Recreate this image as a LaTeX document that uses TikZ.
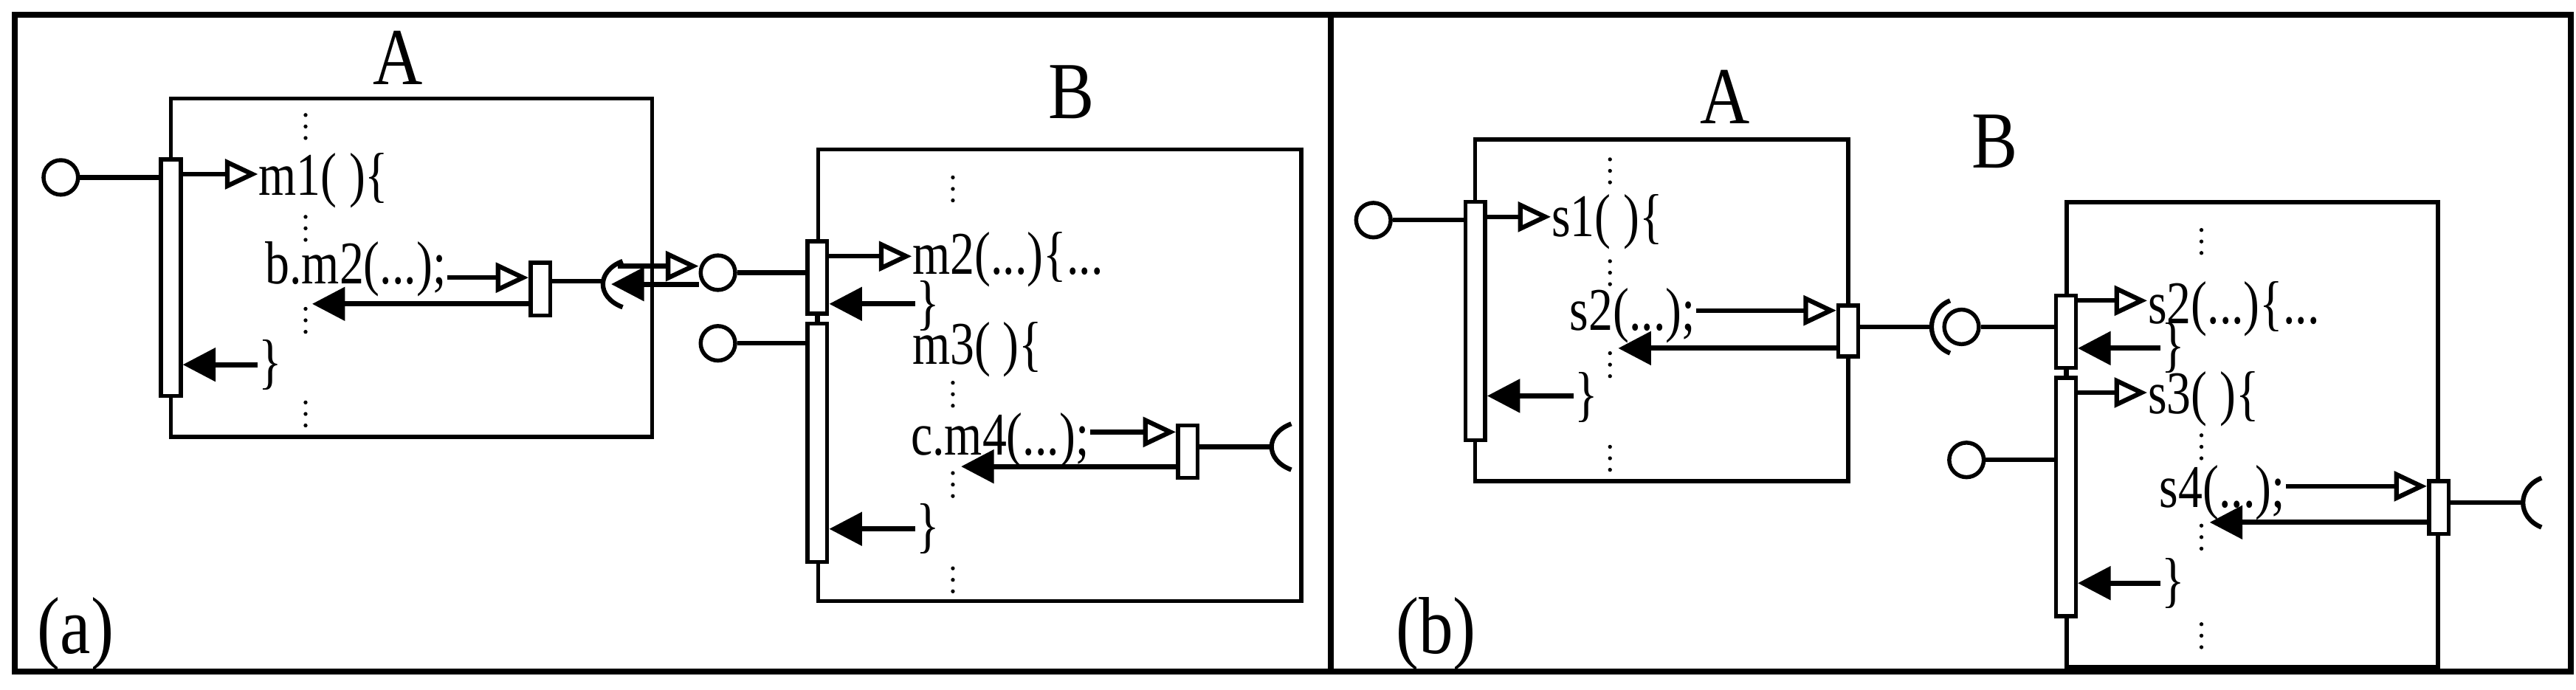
\documentclass[tikz,border=0pt]{standalone}
\usepackage{fontspec}
\setmainfont{Liberation Serif}
\usetikzlibrary{arrows.meta}
\begin{document}
\begin{tikzpicture}[x=0.01cm,y=-0.01cm,
  box/.style={draw,line width=0.7pt},
  bar/.style={draw,fill=white,line width=0.7pt,rectangle,minimum width=1.2mm,inner sep=0},
  port/.style={draw,circle,line width=0.7pt,minimum size=2.1mm,inner sep=0},
  txt/.style={font=\fontsize{10.5}{11}\selectfont,inner sep=0,anchor=west,xscale=0.8},
  big/.style={font=\fontsize{14}{15}\selectfont,inner sep=0,xscale=0.85},
  oa/.style={line width=0.8pt,-{Triangle[open,length=2mm,width=1.8mm]}},
  fa/.style={line width=0.9pt,-{Triangle[length=2mm,width=2mm]}},
  ln/.style={line width=0.8pt}]
\useasboundingbox (0,0) rectangle (1568,420);
\draw[line width=1pt] (9,9) rectangle (1565,409);
\draw[line width=1pt] (810,9) -- (810,409);
\newcommand{\vd}[2]{\foreach \k in {0,7,14}{\fill (#1,#2+\k) circle (0.12mm);}}
% ---------------- (a)
\node[big] (Aa) at (242,35) {A};
\node[big] (Ba) at (652,56) {B};
\node[big] (la) at (46,386) {(a)};
\draw[box] (104,60) rectangle (397,266);
\draw[box] (498,91) rectangle (792,366);
\vd{186}{70}\vd{186}{132}\vd{186}{188}\vd{186}{245}
\vd{580}{108}\vd{580}{233}\vd{580}{288}\vd{580}{346}
\node[bar,minimum height=14.4mm] (a1) at (104,169) {};
\node[port] (pa1) at (37,108) {};
\draw[ln] (pa1) -- (a1.west |- 0,108);
\node[txt] (m1) at (157,110) {m1( )\{};
\draw[oa] (a1.east |- 0,106) -- (m1.west |- 0,106);
\node[txt] (bm2) at (161,164) {b.m2(...);};
\node[bar,minimum height=3.2mm] (s1) at (329,176) {};
\draw[oa] (bm2.east |- 0,169) -- (s1.west |- 0,169);
\coordinate (ra1) at (190,185);
\draw[fa] (s1.west |- 0,185) -- (ra1);
\coordinate (sk1) at (367,171);
\draw[ln] (s1.east |- 0,171) -- (sk1);
\draw[ln] (379,159) .. controls (363,165) and (363,181) .. (379,187);
\node[port] (pb1) at (437,166) {};
\coordinate (q1) at (376,162); \coordinate (q2) at (372,173);
\draw[oa] (q1) -- (pb1.west |- 0,162);
\draw[fa] (pb1.west |- 0,173) -- (q2);
\node[bar,minimum height=4.4mm] (b1) at (497.5,169) {};
\node[bar,minimum height=14.5mm] (b2) at (497.5,269.5) {};
\draw[ln] (b1.south) -- (b2.north);
\draw[ln] (pb1) -- (b1.west |- 0,166);
\node[txt] (m2) at (555,158) {m2(...)\{...};
\draw[oa] (b1.east |- 0,156) -- (m2.west |- 0,156);
\node[txt] (c1) at (557,186) {\}};
\draw[fa] (c1.west |- 0,185) -- (b1.east |- 0,185);
\node[port] (pb2) at (437,209) {};
\draw[ln] (pb2) -- (b2.west |- 0,209);
\node[txt] (m3) at (555,213) {m3( )\{};
\node[txt] (cm4) at (554,268) {c.m4(...);};
\node[bar,minimum height=3.2mm] (s2) at (723,275) {};
\draw[oa] (cm4.east |- 0,263) -- (s2.west |- 0,263);
\coordinate (ra2) at (585,284);
\draw[fa] (s2.west |- 0,284) -- (ra2);
\coordinate (sk2) at (773,272);
\draw[ln] (s2.east |- 0,272) -- (sk2);
\draw[ln] (786,258) .. controls (770,264) and (770,280) .. (786,286);
\node[txt] (c2) at (557,322) {\}};
\draw[fa] (c2.west |- 0,322) -- (b2.east |- 0,322);
\node[txt] (c0) at (157,222) {\}};
\draw[fa] (c0.west |- 0,222) -- (a1.east |- 0,222);
% ---------------- (b)
\node[big] (Ab) at (1050,59) {A};
\node[big] (Bb) at (1214,86) {B};
\node[big] (lb) at (874,386) {(b)};
\draw[box] (898,85) rectangle (1125,293);
\draw[box] (1258,123) rectangle (1484,406);
\vd{980}{97}\vd{980}{159}\vd{980}{215}\vd{980}{272}
\vd{1340}{140}\vd{1340}{265}\vd{1340}{320}\vd{1340}{380}
\node[bar,minimum height=14.5mm] (A1) at (898,195.5) {};
\node[port] (PA1) at (836,134) {};
\draw[ln] (PA1) -- (A1.west |- 0,134);
\node[txt] (s1t) at (944,135) {s1( )\{};
\draw[oa] (A1.east |- 0,132) -- (s1t.west |- 0,132);
\node[txt] (s2c) at (955,192) {s2(...);};
\node[bar,minimum height=3.1mm] (S1) at (1125,201.5) {};
\draw[oa] (s2c.east |- 0,189) -- (S1.west |- 0,189);
\coordinate (RA1) at (985,212);
\draw[fa] (S1.west |- 0,212) -- (RA1);
\node[txt] (cA) at (958,242) {\}};
\draw[fa] (cA.west |- 0,241) -- (A1.east |- 0,241);
\node[port] (PB1) at (1194,199) {};
\draw[ln] (S1.east |- 0,199) -- (1176,199);
\draw[ln] (1187,183) .. controls (1172,189) and (1172,209) .. (1187,215);
\node[bar,minimum height=4.4mm] (B1) at (1257.5,202) {};
\node[bar,minimum height=14.5mm] (B2) at (1257.5,302.5) {};
\draw[ln] (B1.south) -- (B2.north);
\draw[ln] (PB1) -- (B1.west |- 0,199);
\node[txt] (s2t) at (1307,188) {s2(...)\{...};
\draw[oa] (B1.east |- 0,183) -- (s2t.west |- 0,183);
\node[txt] (cB1) at (1315,212) {\}};
\draw[fa] (cB1.west |- 0,212) -- (B1.east |- 0,212);
\node[txt] (s3t) at (1307,243) {s3( )\{};
\draw[oa] (B2.east |- 0,239) -- (s3t.west |- 0,239);
\node[port] (PB2) at (1197,280) {};
\draw[ln] (PB2) -- (B2.west |- 0,280);
\node[txt] (s4c) at (1314,300) {s4(...);};
\node[bar,minimum height=3.2mm] (S2) at (1484.5,309) {};
\draw[oa] (s4c.east |- 0,296) -- (S2.west |- 0,296);
\coordinate (RB1) at (1345,318);
\draw[fa] (S2.west |- 0,318) -- (RB1);
\coordinate (SK3) at (1536,306);
\draw[ln] (S2.east |- 0,306) -- (SK3);
\draw[ln] (1547,291) .. controls (1532,297) and (1532,315) .. (1547,321);
\node[txt] (cB2) at (1315,355) {\}};
\draw[fa] (cB2.west |- 0,355) -- (B2.east |- 0,355);
\end{tikzpicture}
\end{document}
